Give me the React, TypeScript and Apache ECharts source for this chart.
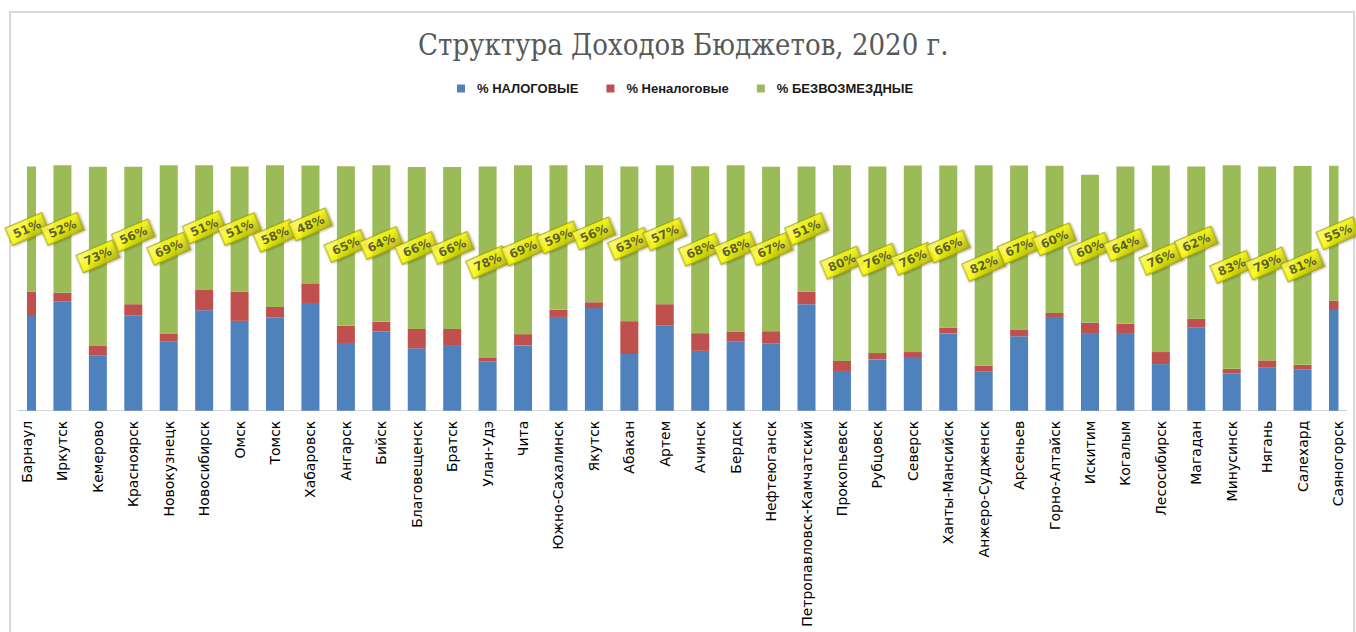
import React, { useEffect, useRef } from "react";
import * as echarts from "echarts";

const cities = [
  "Барнаул", "Иркутск", "Кемерово", "Красноярск", "Новокузнецк", "Новосибирск", "Омск", "Томск",
  "Хабаровск", "Ангарск", "Бийск", "Благовещенск", "Братск", "Улан-Удэ", "Чита", "Южно-Сахалинск",
  "Якутск", "Абакан", "Артем", "Ачинск", "Бердск", "Нефтеюганск", "Петропавловск-Камчатский",
  "Прокопьевск", "Рубцовск", "Северск", "Ханты-Мансийск", "Анжеро-Судженск", "Арсеньев",
  "Горно-Алтайск", "Искитим", "Когалым", "Лесосибирск", "Магадан", "Минусинск", "Нягань",
  "Салехард", "Саяногорск",
];

const taxShare = [
  38.6, 44.6, 22.4, 38.9, 28.1, 40.9, 36.6, 37.9, 43.9, 27.6, 32.2, 25.4, 26.4, 20.0, 26.6, 38.2,
  41.8, 23.1, 34.8, 24.4, 28.1, 27.5, 43.4, 16.2, 20.9, 21.5, 31.5, 16.1, 30.3, 38.2, 31.3, 31.3,
  19.0, 34.0, 15.1, 17.5, 16.9, 41.4,
];

const nonTaxShare = [
  9.9, 3.5, 4.0, 4.5, 3.4, 8.3, 11.9, 4.4, 8.0, 7.0, 4.1, 7.9, 6.9, 1.5, 4.6, 2.9,
  2.4, 13.4, 8.6, 7.2, 4.2, 4.9, 5.1, 4.1, 2.6, 2.4, 2.4, 2.3, 2.6, 1.6, 4.5, 4.2,
  4.9, 3.5, 2.0, 3.0, 1.8, 3.4,
];

const grantShare = [
  51, 52, 73, 56, 69, 51, 51, 58, 48, 65, 64, 66, 66, 78, 69, 59,
  56, 63, 57, 68, 68, 67, 51, 80, 76, 76, 66, 82, 67, 60, 60.4, 64,
  76, 62, 83, 79, 81, 55,
];

const seriesNames = ["% НАЛОГОВЫЕ", "% Неналоговые", "% БЕЗВОЗМЕЗДНЫЕ"];
const seriesColors = ["#4F81BD", "#C0504D", "#9BBB59"];
const titleText = "Структура Доходов Бюджетов, 2020 г.";

export default function App() {
  const ref = useRef<HTMLDivElement>(null);
  useEffect(() => {
    if (!ref.current) return;
    const chart = echarts.init(ref.current, undefined, { renderer: "svg" });
    const datasets = [taxShare, nonTaxShare, grantShare];
    // label anchor: middle of the green segment
    const labelPoints = cities.map((_, i) => ({
      value: [i, taxShare[i] + nonTaxShare[i] + grantShare[i] / 2],
      grant: grantShare[i],
    }));
    const barSeries = datasets.map((d, i) => ({
      name: seriesNames[i],
      type: "bar",
      stack: "total",
      barWidth: 18,
      data: d,
      z: 2,
      itemStyle: { color: seriesColors[i] },
    }));
    chart.setOption({
      animation: false,
      backgroundColor: "#ffffff",
      title: {
        text: titleText,
        left: 413,
        top: 25,
        textStyle: {
          fontFamily: "DejaVu Serif Condensed",
          fontSize: 29,
          fontWeight: "normal",
          color: "#595959",
        },
      },
      legend: {
        left: 452,
        top: 77,
        itemWidth: 8,
        itemHeight: 8,
        itemGap: 28,
        icon: "rect",
        textStyle: {
          fontFamily: "Liberation Sans",
          fontSize: 13,
          fontWeight: "bold",
          color: "#1a1a1a",
          padding: [0, 0, 0, 7],
        },
        data: seriesNames,
      },
      graphic: [
        {
          type: "rect",
          z: 5,
          shape: { x: 0, y: 150, width: 27, height: 260.5 },
          style: { fill: "#ffffff" },
          silent: true,
        },
        {
          type: "rect",
          z: 5,
          shape: { x: 1338.5, y: 150, width: 20, height: 260.5 },
          style: { fill: "#ffffff" },
          silent: true,
        },
        {
          type: "rect",
          z: 6,
          shape: { x: 10, y: 12, width: 1344, height: 700 },
          style: { fill: "none", stroke: "#d9d9d9", lineWidth: 2 },
          silent: true,
        },
      ],
      grid: { left: 27, right: 18, top: 165.3, bottom: 221.3, containLabel: false },
      xAxis: {
        type: "category",
        data: cities,
        boundaryGap: false,
        axisLine: { lineStyle: { color: "#d9d9d9", width: 1 } },
        axisTick: { show: false },
        axisLabel: {
          rotate: 90,
          interval: 0,
          margin: 10,
          color: "#000000",
          fontFamily: "DejaVu Sans",
          fontSize: 14,
        },
        splitLine: { show: false },
      },
      yAxis: {
        type: "value",
        min: 0,
        max: 100,
        show: false,
        splitLine: { show: false },
      },
      series: [
        ...barSeries,
        {
          name: "labels",
          type: "scatter",
          z: 10,
          silent: true,
          symbolSize: 1,
          itemStyle: { color: "rgba(0,0,0,0)" },
          data: labelPoints,
          label: {
            show: true,
            position: "inside",
            rotate: 23,
            formatter: (p: any) => Math.round(p.data.grant) + "%",
            fontFamily: "DejaVu Sans",
            fontSize: 12,
            fontWeight: "bold",
            color: "#3a3a3a",
            backgroundColor: {
              type: "linear",
              x: 0,
              y: 0,
              x2: 1,
              y2: 1,
              colorStops: [
                { offset: 0, color: "#ffff70" },
                { offset: 0.45, color: "#ffff00" },
                { offset: 1, color: "#a8a800" },
              ],
            },
            borderColor: "#9a9a00",
            borderWidth: 1,
            padding: [3, 5, 3, 5],
            shadowColor: "rgba(0,0,0,0.35)",
            shadowBlur: 2,
            shadowOffsetX: 1,
            shadowOffsetY: 1,
          },
        },
      ],
    });
    return () => chart.dispose();
  }, []);
  return (
    <div
      ref={ref}
      style={{ position: "fixed", left: 0, top: 0, width: 1356, height: 632 }}
    />
  );
}
